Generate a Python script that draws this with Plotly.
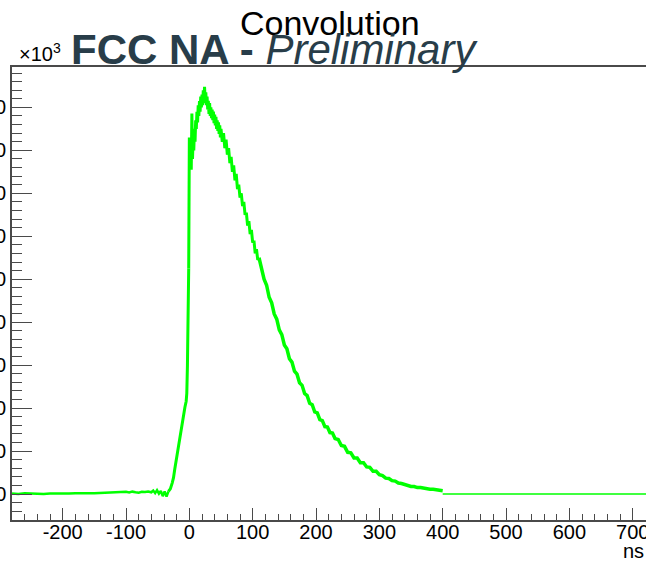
import plotly.graph_objects as go

# ---- data (ns, signal in units of 10^3) ----
t_pre = [-280, -270, -260, -250, -240, -230, -220, -210, -200, -190, -180, -170, -160, -150,
         -140, -130, -120, -110, -100, -95, -90, -85, -80, -75, -70, -65, -60, -57, -54, -51,
         -48, -45, -42, -39, -36, -33]
v_pre = [0.1, 0.0, 0.15, 0.05, 0.1, 0.0, 0.1, 0.05, 0.15, 0.1, 0.2, 0.1, 0.15, 0.2,
         0.25, 0.3, 0.35, 0.45, 0.5, 0.35, 0.55, 0.4, 0.3, 0.5, 0.45, 0.6, 0.4, 0.8, 0.2, 0.9,
         0.1, 0.7, -0.5, 0.6, -0.6, 0.6]

t_rise = [-33, -30, -27, -25, -23, -21, -19, -17, -15, -13, -11, -9, -7, -5, -4, -3, -2, -1]
v_rise = [0.6, 1.2, 2.6, 3.8, 5.8, 7.6, 9.6, 11.8, 13.8, 15.6, 17.3, 18.9, 20.2, 21.6, 23.5,
          30.0, 45.0, 52.5]

t_peak = [-1, 0, 1, 2, 3, 4, 5, 6, 7, 8, 9, 10, 11, 12, 13, 14, 15, 16, 17, 18, 19, 20,
          21, 22, 23, 24, 25, 26, 27, 28, 29, 30, 31, 32, 33, 34, 35, 36, 37, 38, 39, 40,
          41, 42, 43, 44, 45, 46, 47, 48, 49, 50, 52, 54, 56, 58, 60, 62, 64, 66, 68, 70,
          72, 74, 76, 78, 80, 82, 84, 86, 88, 90, 92, 94, 96, 98, 100, 102, 104, 106, 108, 110]
v_peak = [52.5, 83.0, 76.0, 79.0, 75.5, 88.6, 78.0, 83.0, 80.0, 85.0, 82.0, 87.0, 85.0, 89.0,
          86.5, 90.5, 88.0, 91.5, 89.0, 92.5, 90.0, 93.0, 90.5, 94.0, 91.0, 94.8, 91.5, 93.5,
          90.5, 92.5, 89.5, 91.5, 88.5, 91.0, 88.0, 90.0, 87.5, 89.5, 87.0, 89.0, 86.3, 88.3,
          85.8, 87.8, 85.0, 87.0, 84.5, 86.5, 83.8, 85.8, 83.0, 85.0, 82.0, 84.0, 80.5, 82.5,
          79.0, 80.5, 77.0, 78.5, 75.0, 76.5, 73.0, 74.5, 71.0, 72.0, 69.0, 70.0, 67.0, 68.0,
          65.0, 65.5, 62.5, 63.5, 60.5, 61.5, 58.5, 59.0, 56.0, 57.0, 54.5, 55.0]

t_tail = [110, 114, 118, 122, 126, 130, 134, 138, 142, 146, 150, 154, 158, 162, 166, 170,
          174, 178, 182, 186, 190, 194, 198, 202, 206, 210, 214, 218, 222, 226, 230, 235,
          240, 245, 250, 255, 260, 265, 270, 275, 280, 285, 290, 295, 300, 305, 310, 315,
          320, 325, 330, 335, 340, 345, 350, 355, 360, 365, 370, 375, 380, 385, 390, 395, 400]
v_tail = [55.0, 52.8, 50.0, 48.6, 45.8, 44.5, 41.9, 40.7, 38.2, 37.1, 34.7, 33.8, 31.5, 30.7,
          28.6, 27.9, 25.9, 25.3, 23.4, 22.9, 21.1, 20.8, 19.1, 18.9, 17.3, 17.1, 15.7, 15.6,
          14.3, 14.2, 12.9, 12.7, 11.3, 11.1, 9.7, 9.6, 8.4, 8.4, 7.3, 7.3, 6.3, 6.2, 5.3,
          5.3, 4.5, 4.3, 3.7, 3.6, 3.1, 3.0, 2.55, 2.45, 2.15, 2.05, 1.75, 1.75, 1.5, 1.5, 1.3,
          1.3, 1.1, 1.1, 0.92, 0.88, 0.77]

t_flat = [400, 721]
v_flat = [0.0, 0.0]

x_tick_vals = [-200, -100, 0, 100, 200, 300, 400, 500, 600, 700]
x_tick_text = ["-200", "-100", "0", "100", "200", "300", "400", "500", "600", "700"]
y_tick_vals = [0, 10, 20, 30, 40, 50, 60, 70, 80, 90]
y_tick_text = ["0", "10", "20", "30", "40", "50", "60", "70", "80", "90"]

GREEN = "#00ff00"
FRAME = "#4a4a4a"
FONT = "Liberation Sans, Arial, sans-serif"

fig = go.Figure()
fig.add_trace(go.Scatter(x=t_pre, y=v_pre, mode="lines", line=dict(color=GREEN, width=2.5)))
fig.add_trace(go.Scatter(x=t_rise, y=v_rise, mode="lines", line=dict(color=GREEN, width=3)))
fig.add_trace(go.Scatter(x=t_peak, y=v_peak, mode="lines", line=dict(color=GREEN, width=3)))
fig.add_trace(go.Scatter(x=t_tail, y=v_tail, mode="lines", line=dict(color=GREEN, width=3.5)))
fig.add_trace(go.Scatter(x=t_flat, y=v_flat, mode="lines", line=dict(color=GREEN, width=1.5)))

fig.update_layout(
    width=646, height=561,
    margin=dict(l=12, r=0, t=67, b=41),
    paper_bgcolor="white", plot_bgcolor="white",
    showlegend=False,
    font=dict(family=FONT, size=20, color="black"),
    xaxis=dict(
        range=[-280, 721], showgrid=False, zeroline=False,
        showline=True, linecolor=FRAME, linewidth=1.5, mirror=True,
        ticks="inside", ticklen=12, tickcolor=FRAME, tickwidth=1.2,
        tickvals=x_tick_vals, ticktext=x_tick_text,
        minor=dict(ticks="inside", ticklen=6, dtick=20, tick0=0, tickcolor=FRAME, tickwidth=1.2),
        tickfont=dict(family=FONT, size=20, color="black"),
        ticklabeloverflow="allow", ticklabelstandoff=-7,
        automargin=False,
    ),
    yaxis=dict(
        range=[-6.05, 99.4], showgrid=False, zeroline=False,
        showline=True, linecolor=FRAME, linewidth=1.5, mirror=False,
        ticks="inside", ticklen=20, tickcolor=FRAME, tickwidth=1.2,
        tickvals=y_tick_vals, ticktext=y_tick_text,
        minor=dict(ticks="inside", ticklen=10, dtick=2, tick0=0, tickcolor=FRAME, tickwidth=1.2),
        tickfont=dict(family=FONT, size=20, color="black"),
        ticklabeloverflow="allow",
        automargin=False,
    ),
)

fig.add_annotation(text="Convolution", xref="paper", yref="paper", x=0.5016, y=1.097,
                   xanchor="center", yanchor="middle", showarrow=False,
                   font=dict(family=FONT, size=34, color="black"))
fig.add_annotation(text="<b>FCC NA - </b><i>Preliminary</i>", xref="paper", yref="paper",
                   x=0.0899, y=1.038, xanchor="left", yanchor="middle", showarrow=False,
                   font=dict(family=FONT, size=42, color="#283d49"))
fig.add_annotation(text="×10<sup>3</sup>", xref="paper", yref="paper",
                   x=0.0085, y=1.032, xanchor="left", yanchor="middle", showarrow=False,
                   font=dict(family=FONT, size=20, color="black"))
fig.add_annotation(text="ns", xref="paper", yref="paper", x=1.0, y=-0.0684,
                   xanchor="right", yanchor="middle", showarrow=False,
                   font=dict(family=FONT, size=20, color="black"))

fig.write_html("out.html")
